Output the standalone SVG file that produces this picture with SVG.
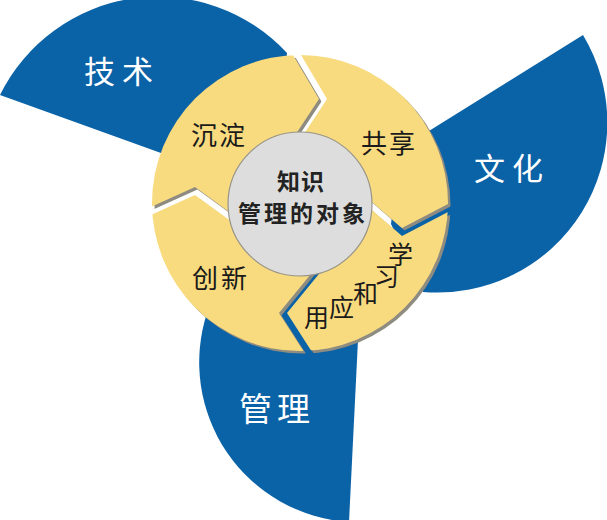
<svg xmlns="http://www.w3.org/2000/svg" xmlns:xlink="http://www.w3.org/1999/xlink" width="607" height="520" viewBox="0 0 607 520">
<style>
.petal{fill:#0A62A7;}
.pl{fill:#FFFFFF;font-family:"Noto Sans CJK SC","Noto Sans",sans-serif;}
.sh{fill:#8E8B80;}
.yl{fill:#F9DB7F;}
.rl{fill:#1A1A1A;font-family:"Noto Sans CJK SC","Noto Sans",sans-serif;font-size:26px;}
.dl{fill:#1A1A1A;font-family:"Noto Sans CJK SC","Noto Sans",sans-serif;font-size:25px;}
.cl{fill:#222222;font-family:"Noto Sans CJK SC","Noto Sans",sans-serif;font-size:23px;font-weight:bold;}
</style>
<defs>
<clipPath id="c1"><polygon points="0,-50 280,-50 280,33 319,99 286,149 244.5,223 195,187 132,215.5 0,215.5"/></clipPath>
<clipPath id="c2"><polygon points="0,223.5 132,223.5 195,195 244.5,231 319.5,263.5 279,313 316.5,371.5 316.5,560 0,560"/></clipPath>
<clipPath id="c3"><polygon points="288,-50 288,33 327,99 294,149 358.5,190.5 402,228 471,192 640,192 640,-50"/></clipPath>
<clipPath id="c4"><polygon points="358.5,198.5 402,236 471,200 640,200 640,560 324.5,560 324.5,371.5 287,313 327.5,263.5"/></clipPath>
<circle id="d1" cx="300" cy="203" r="148" clip-path="url(#c1)"/>
<circle id="d2" cx="300" cy="203" r="148" clip-path="url(#c2)"/>
<circle id="d3" cx="300" cy="203" r="148" clip-path="url(#c3)"/>
<circle id="d4" cx="300" cy="203" r="148" clip-path="url(#c4)"/>
</defs>
<rect width="607" height="520" fill="#FFFFFF"/>
<g id="petal-jishu">
<path class="petal" d="M300,203 L0,95 A176,176 0 0,1 287,53 L282,130 Z"/>
<text class="pl" font-size="31" x="84 122" y="83">技术</text>
</g>
<g id="petal-wenhua">
<path class="petal" d="M400,149 L583,35 A170,170 0 0,1 423,292 L391,224 Z"/>
<text class="pl" font-size="31" x="474 512" y="180">文化</text>
</g>
<g id="petal-guanli">
<path class="petal" d="M358,340 L349,522 A160,160 0 0,1 207,313 L280,272 L340,268 Z"/>
<text class="pl" font-size="33" x="239 277" y="421">管理</text>
</g>
<g id="connectors"></g>
<g id="seg-chendian">
<use xlink:href="#d1" href="#d1" class="sh" transform="translate(2.5,2.5)"/>
<use xlink:href="#d1" href="#d1" class="yl"/>
<text class="rl" x="191 219" y="145">沉淀</text>
</g>
<g id="seg-chuangxin">
<use xlink:href="#d2" href="#d2" class="sh" transform="translate(2.5,2.5)"/>
<use xlink:href="#d2" href="#d2" class="yl"/>
<text class="rl" x="192 221" y="288">创新</text>
</g>
<g id="seg-gongxiang">
<use xlink:href="#d3" href="#d3" class="sh" transform="translate(2.5,2.5)"/>
<use xlink:href="#d3" href="#d3" class="yl"/>
<text class="rl" x="361 389" y="153">共享</text>
</g>
<g id="seg-xuexi">
<use xlink:href="#d4" href="#d4" class="sh" transform="translate(2.5,2.5)"/>
<use xlink:href="#d4" href="#d4" class="yl"/>
<text class="dl" x="304" y="327">用</text>
<text class="dl" x="329" y="317">应</text>
<text class="dl" x="353" y="303">和</text>
<text class="dl" x="374" y="286">习</text>
<text class="dl" x="388" y="264">学</text>
</g>
<g id="center">
<circle cx="300" cy="204" r="72" fill="#DDDDDD" stroke="#96948A" stroke-width="1.2"/>
<text class="cl" x="277 301" y="190">知识</text>
<text class="cl" x="238 264 290 316 342" y="222">管理的对象</text>
</g>
</svg>
